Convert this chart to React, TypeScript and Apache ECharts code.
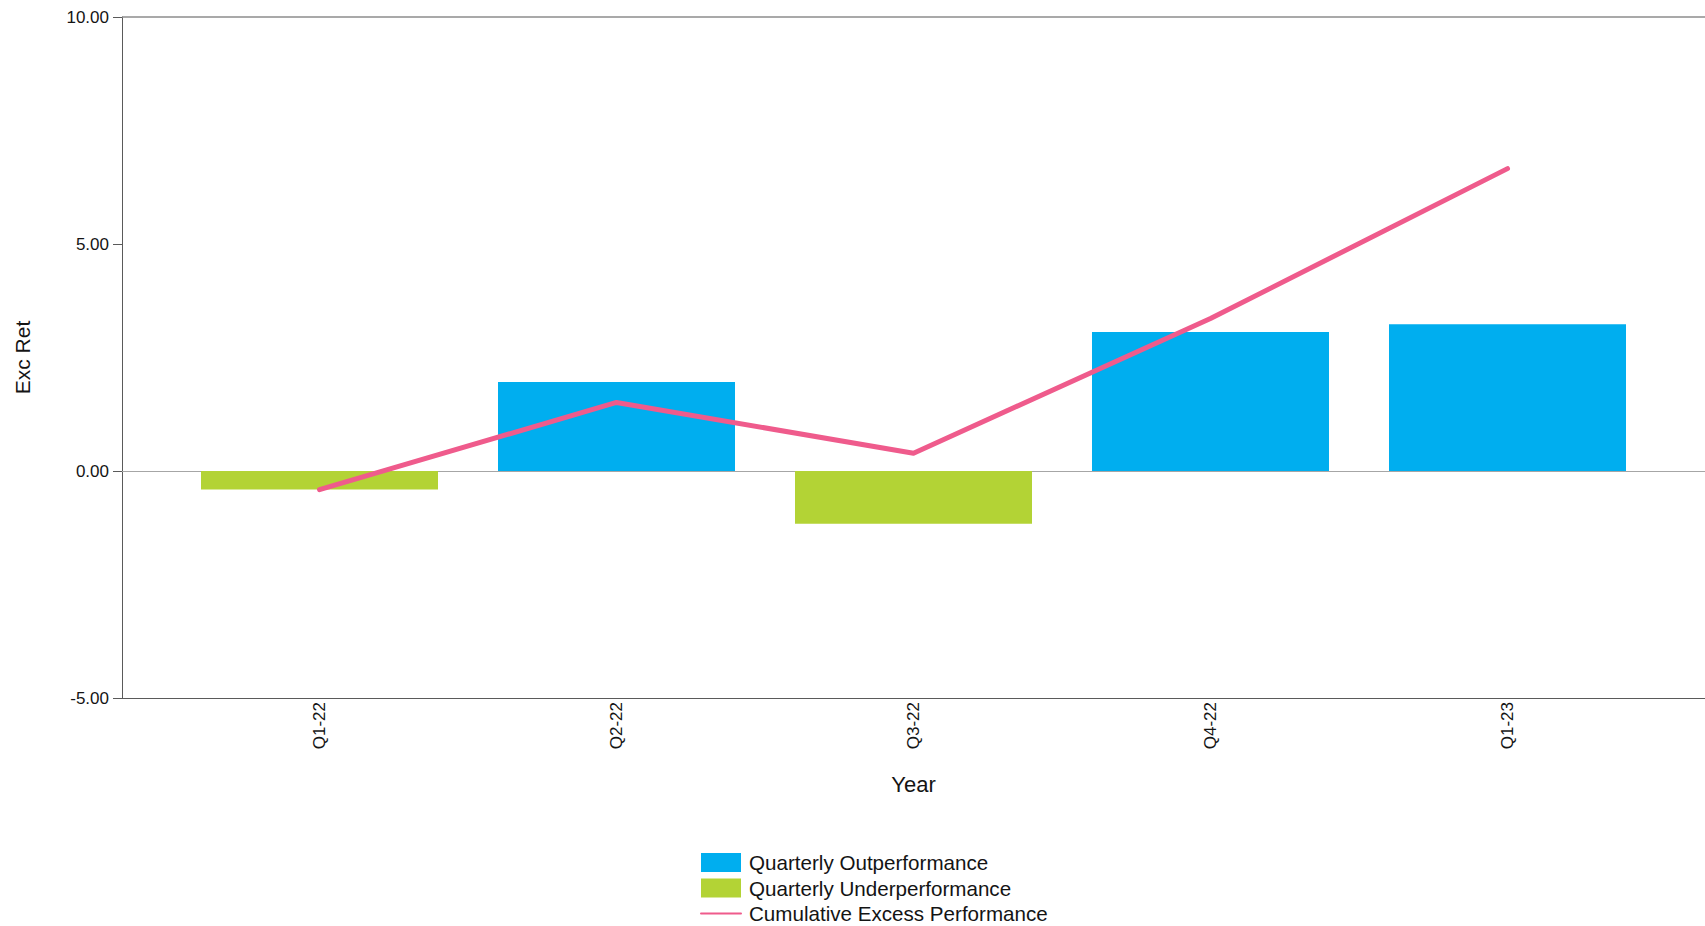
import React, { useEffect, useRef } from "react";
import * as echarts from "echarts";

// Quarter labels along the x axis
const quarters: string[] = ["Q1-22", "Q2-22", "Q3-22", "Q4-22", "Q1-23"];
// Quarterly excess return split by sign (null where the quarter belongs to the other series)
const outperformance: (number | null)[] = [null, 1.96, null, 3.06, 3.23];
const underperformance: (number | null)[] = [-0.41, null, -1.16, null, null];
// Running cumulative excess return
const cumulative: number[] = [-0.41, 1.51, 0.39, 3.36, 6.66];
// Value axis ticks
const yTicks: number[] = [-5, 0, 5, 10];

const FONT = "'Liberation Sans', Arial, sans-serif";
const TEXT = "#141414";
const AXIS = "#5a5a5a";
const PINK = "#ef5b8c";

const toPoints = (vals: (number | null)[]) =>
  vals.map((v, i) => (v === null ? null : [i, v])).filter((p) => p !== null);

export default function App() {
  const ref = useRef<HTMLDivElement>(null);

  useEffect(() => {
    document.body.style.margin = "0";
    if (!ref.current) return;
    const chart = echarts.init(ref.current, null, { renderer: "svg" });
    const half = 0.665;
    chart.setOption({
      animation: false,
      backgroundColor: "#ffffff",
      textStyle: { fontFamily: FONT },
      grid: { left: 122, right: 0, top: 17, bottom: 228, containLabel: false },
      xAxis: {
        type: "value",
        min: -half,
        max: quarters.length - 1 + half,
        name: "Year",
        nameLocation: "middle",
        nameGap: 75,
        nameTextStyle: { fontSize: 22, color: TEXT, fontFamily: FONT },
        axisLine: { show: true, onZero: false, lineStyle: { color: AXIS, width: 1 } },
        axisTick: { show: false },
        splitLine: { show: false },
        axisLabel: {
          customValues: quarters.map((_, i) => i),
          formatter: (v: number) => quarters[Math.round(v)] ?? "",
          rotate: 90,
          margin: 4,
          fontSize: 17,
          color: TEXT,
          fontFamily: FONT,
        },
      },
      yAxis: {
        type: "value",
        min: yTicks[0],
        max: yTicks[yTicks.length - 1],
        interval: 5,
        name: "Exc Ret",
        nameLocation: "middle",
        nameGap: 89,
        nameTextStyle: { fontSize: 21, color: TEXT, fontFamily: FONT },
        axisLine: { show: true, onZero: false, lineStyle: { color: AXIS, width: 1 } },
        axisTick: { show: true, length: 9, lineStyle: { color: AXIS } },
        splitLine: { show: false },
        axisLabel: {
          formatter: (v: number) => v.toFixed(2),
          margin: 13,
          fontSize: 17,
          color: TEXT,
          fontFamily: FONT,
        },
      },
      legend: {
        orient: "vertical",
        left: 700,
        top: 852,
        height: 80,
        padding: 0,
        itemWidth: 40,
        itemHeight: 19,
        itemGap: 4.5,
        textStyle: { fontSize: 20.6, color: TEXT, fontFamily: FONT, padding: [0, 0, 0, 3], lineHeight: 19 },
        data: [
          { name: "Quarterly Outperformance", icon: "rect" },
          { name: "Quarterly Underperformance", icon: "rect" },
          {
            name: "Cumulative Excess Performance",
            lineStyle: { width: 2, color: PINK },
            itemStyle: { color: "rgba(0,0,0,0)", borderWidth: 0, opacity: 0 },
          },
        ],
      },
      series: [
        {
          name: "Quarterly Outperformance",
          type: "bar",
          barWidth: 237,
          itemStyle: { color: "#00aeef" },
          data: toPoints(outperformance),
          z: 2,
          markLine: {
            silent: true,
            symbol: "none",
            label: { show: false },
            z: 1,
            data: [
              { yAxis: 0, lineStyle: { color: "#a6a6a6", width: 1, type: "solid" } },
              { yAxis: yTicks[yTicks.length - 1], lineStyle: { color: "#8c8c8c", width: 1.5, type: "solid" } },
            ],
          },
        },
        {
          name: "Quarterly Underperformance",
          type: "bar",
          barWidth: 237,
          barGap: "-100%",
          itemStyle: { color: "#b3d335" },
          data: toPoints(underperformance),
          z: 2,
        },
        {
          name: "Cumulative Excess Performance",
          type: "line",
          symbol: "none",
          lineStyle: { color: PINK, width: 5, cap: "round", join: "round" },
          itemStyle: { color: PINK },
          data: cumulative.map((v, i) => [i, v]),
          z: 3,
        },
      ],
    });
    return () => chart.dispose();
  }, []);

  return <div ref={ref} style={{ width: "1705px", height: "926px" }} />;
}
